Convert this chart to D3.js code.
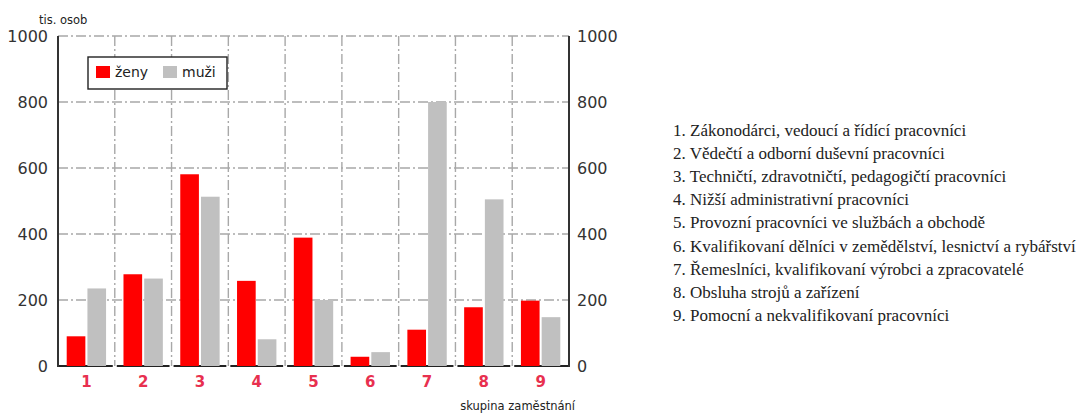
<!DOCTYPE html>
<html>
<head>
<meta charset="utf-8">
<script src="https://cdn.jsdelivr.net/npm/d3@7/dist/d3.min.js"></script>
<style>
  html, body { margin: 0; padding: 0; background: #fff; }
  svg { display: block; }
</style>
</head>
<body>
<svg id="chart" width="1083" height="414"></svg>
<script>
// Zaměstnaní podle skupin zaměstnání (tis. osob)
const categories = ["1", "2", "3", "4", "5", "6", "7", "8", "9"];
const zeny = [90, 278, 581, 258, 389, 28, 110, 178, 198];
const muzi = [235, 265, 513, 81, 200, 42, 800, 505, 148];
const seriesNames = ["ženy", "muži"];
const seriesColors = ["#ff0000", "#c0c0c0"];
const yTicks = [0, 200, 400, 600, 800, 1000];
const groupNames = [
  "1. Zákonodárci, vedoucí a řídící pracovníci",
  "2. Vědečtí a odborní duševní pracovníci",
  "3. Techničtí, zdravotničtí, pedagogičtí pracovníci",
  "4. Nižší administrativní pracovníci",
  "5. Provozní pracovníci ve službách a obchodě",
  "6. Kvalifikovaní dělníci v zemědělství, lesnictví a rybářství",
  "7. Řemeslníci, kvalifikovaní výrobci a zpracovatelé",
  "8. Obsluha strojů a zařízení",
  "9. Pomocní a nekvalifikovaní pracovníci"
];

const svg = d3.select("#chart");
const plotL = 58, plotR = 569, plotT = 36, plotB = 366;
const sans = "'DejaVu Sans', sans-serif";

const x = d3.scaleBand().domain(categories).range([plotL, plotR]).padding(0);
const xi = d3.scaleBand().domain(seriesNames).range([0, x.bandwidth()])
  .paddingInner(0.1).paddingOuter(0.42);
const y = d3.scaleLinear().domain([0, 1000]).range([plotB, plotT]);

const dash = "10,3,2,3";

// horizontal grid
svg.append("g").selectAll("line").data(yTicks.filter(d => d > 0)).join("line")
  .attr("x1", plotL).attr("x2", plotR)
  .attr("y1", d => y(d)).attr("y2", d => y(d))
  .attr("stroke", "#a8a8a8").attr("stroke-width", 1.4)
  .attr("stroke-dasharray", dash);

// vertical grid between groups
svg.append("g").selectAll("line").data(categories.slice(1)).join("line")
  .attr("x1", d => x(d)).attr("x2", d => x(d))
  .attr("y1", plotT).attr("y2", plotB)
  .attr("stroke", "#a8a8a8").attr("stroke-width", 1.4)
  .attr("stroke-dasharray", dash);

// baseline, broken where the group dividers meet it
svg.append("g").selectAll("line").data(categories).join("line")
  .attr("x1", (d, i) => x(d) + (i === 0 ? 0 : 2))
  .attr("x2", (d, i) => x(d) + x.bandwidth() - (i === categories.length - 1 ? 0 : 2))
  .attr("y1", plotB).attr("y2", plotB)
  .attr("stroke", "#222").attr("stroke-width", 2);

// side axes
[plotL, plotR].forEach(px => {
  svg.append("line").attr("x1", px).attr("x2", px)
    .attr("y1", plotT).attr("y2", plotB + 1)
    .attr("stroke", "#333").attr("stroke-width", 2);
});

// bars
const series = [zeny, muzi];
const groups = svg.append("g").selectAll("g").data(categories).join("g")
  .attr("transform", d => `translate(${x(d)},0)`);
groups.selectAll("rect")
  .data((d, i) => seriesNames.map((s, k) => ({ s, v: series[k][i], c: seriesColors[k] })))
  .join("rect")
  .attr("x", d => xi(d.s))
  .attr("width", xi.bandwidth())
  .attr("y", d => y(d.v))
  .attr("height", d => plotB - y(d.v))
  .attr("fill", d => d.c);

// y axes
const fmt = d3.format("d");
const axL = d3.axisLeft(y).tickValues(yTicks).tickFormat(fmt).tickSize(0).tickPadding(10);
const axR = d3.axisRight(y).tickValues(yTicks).tickFormat(fmt).tickSize(0).tickPadding(8);
const gL = svg.append("g").attr("transform", `translate(${plotL},0)`).call(axL);
const gR = svg.append("g").attr("transform", `translate(${plotR},0)`).call(axR);
[gL, gR].forEach(g => {
  g.select(".domain").remove();
  g.selectAll("text").attr("font-family", sans).attr("font-size", 16)
    .attr("fill", "#333").attr("dy", "0.35em");
});

// x axis labels
const axB = d3.axisBottom(x).tickSize(0).tickPadding(10);
const gB = svg.append("g").attr("transform", `translate(0,${plotB})`).call(axB);
gB.select(".domain").remove();
gB.selectAll("text").attr("font-family", sans).attr("font-size", 15)
  .attr("font-weight", "bold").attr("fill", "#e8304f");

// axis titles
svg.append("text").attr("x", 39).attr("y", 24)
  .attr("font-family", sans).attr("font-size", 11.5).attr("fill", "#222")
  .text("tis. osob");
svg.append("text").attr("x", 575).attr("y", 410).attr("text-anchor", "end")
  .attr("font-family", sans).attr("font-size", 11.5).attr("fill", "#222")
  .text("skupina zaměstnání");

// legend
const lg = svg.append("g").attr("transform", "translate(88,57)");
lg.append("rect").attr("width", 139).attr("height", 32)
  .attr("fill", "#fff").attr("stroke", "#222").attr("stroke-width", 1.4);
const items = lg.selectAll("g").data(seriesNames).join("g")
  .attr("transform", (d, i) => `translate(${i === 0 ? 8 : 75},9)`);
items.append("rect").attr("width", 14).attr("height", 12)
  .attr("fill", (d, i) => seriesColors[i]);
items.append("text").attr("x", 19).attr("y", 11)
  .attr("font-family", sans).attr("font-size", 14).attr("fill", "#222")
  .text(d => d);

// list of occupation groups
svg.append("g").selectAll("text").data(groupNames).join("text")
  .attr("x", 673).attr("y", (d, i) => 136 + i * 23.1)
  .attr("font-family", "'Liberation Serif', serif").attr("font-size", 17)
  .attr("fill", "#222")
  .text(d => d);
</script>
</body>
</html>
